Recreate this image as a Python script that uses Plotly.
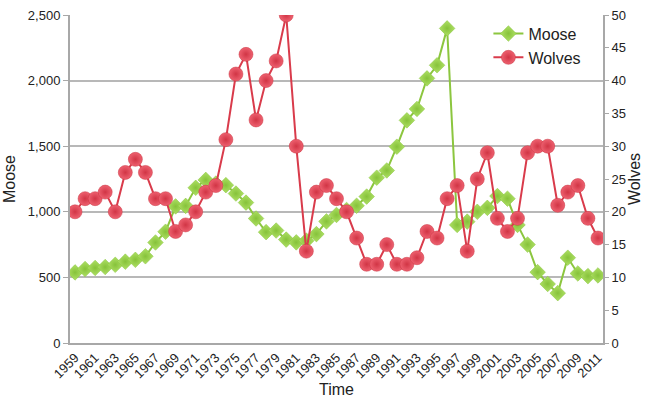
import plotly.graph_objects as go

years = list(range(1959, 2012))
wolves = [20, 22, 22, 23, 20, 26, 28, 26, 22, 22, 17, 18, 20, 23, 24, 31, 41, 44, 34, 40,
          43, 50, 30, 14, 23, 24, 22, 20, 16, 12, 12, 15, 12, 12, 13, 17, 16, 22, 24, 14,
          25, 29, 19, 17, 19, 29, 30, 30, 21, 23, 24, 19, 16]
moose = [538, 564, 572, 579, 596, 620, 634, 661, 766, 848, 1041, 1045, 1183, 1243, 1215,
         1203, 1139, 1070, 949, 845, 857, 788, 767, 780, 830, 927, 976, 1014, 1046, 1116,
         1260, 1315, 1496, 1697, 1784, 2017, 2117, 2398, 900, 925, 1000, 1030, 1120, 1100,
         900, 750, 540, 450, 380, 650, 530, 510, 515]
tick_years = list(range(1959, 2012, 2))

green = "#8cc63f"
red = "#d93b4b"
font = "Liberation Sans, Arial, sans-serif"

fig = go.Figure()
fig.add_trace(go.Scatter(
    x=years, y=moose, name="Moose", mode="lines+markers",
    line=dict(color=green, width=2),
    marker=dict(symbol="diamond", size=12, color="#aee064",
                gradient=dict(type="radial", color="#86c23a"),
                line=dict(color="#84c23a", width=0.5)),
))
fig.add_trace(go.Scatter(
    x=years, y=wolves, name="Wolves", mode="lines+markers", yaxis="y2",
    line=dict(color=red, width=2),
    marker=dict(symbol="circle", size=14, color="#ee6170",
                gradient=dict(type="radial", color="#d13545"),
                line=dict(color="#c9323f", width=0.5)),
))

fig.update_layout(
    width=652, height=398,
    margin=dict(l=70, r=49, t=15, b=55),
    paper_bgcolor="white", plot_bgcolor="white",
    font=dict(family=font, size=13, color="#222222"),
    showlegend=True,
    legend=dict(x=0.785, y=0.995, xanchor="left", yanchor="top",
                bgcolor="rgba(0,0,0,0)", font=dict(size=16, color="#222222"),
                tracegroupgap=0, itemwidth=30),
    xaxis=dict(
        range=[1958.5, 2011.5], tickmode="array", tickvals=tick_years,
        ticktext=[str(y) for y in tick_years], tickangle=-45,
        showgrid=False, showline=True, linecolor="#a8a8a8", linewidth=2,
        ticks="", tickfont=dict(size=13), automargin=False,
        title=dict(text="Time", font=dict(size=16), standoff=4),
        zeroline=False,
    ),
    yaxis=dict(
        range=[0, 2500], tickvals=[0, 500, 1000, 1500, 2000, 2500],
        tickformat=",", showgrid=True, gridcolor="#b8b8b8", gridwidth=1.5,
        showline=True, linecolor="#a8a8a8", linewidth=2,
        ticks="outside", ticklen=5, tickcolor="#a8a8a8", automargin=False,
        title=dict(text="Moose", font=dict(size=16), standoff=8),
        zeroline=False, tickfont=dict(size=13),
    ),
    yaxis2=dict(
        range=[0, 50], tickvals=list(range(0, 51, 5)), overlaying="y", side="right",
        showgrid=False, showline=True, linecolor="#a8a8a8", linewidth=2,
        ticks="outside", ticklen=4, tickcolor="#a8a8a8", automargin=False,
        title=dict(text="Wolves", font=dict(size=16), standoff=4),
        zeroline=False, tickfont=dict(size=13),
    ),
)

fig.write_html("out.html", config={"displayModeBar": False},
               post_script="document.body.style.margin='0';document.body.style.overflow='hidden';")
